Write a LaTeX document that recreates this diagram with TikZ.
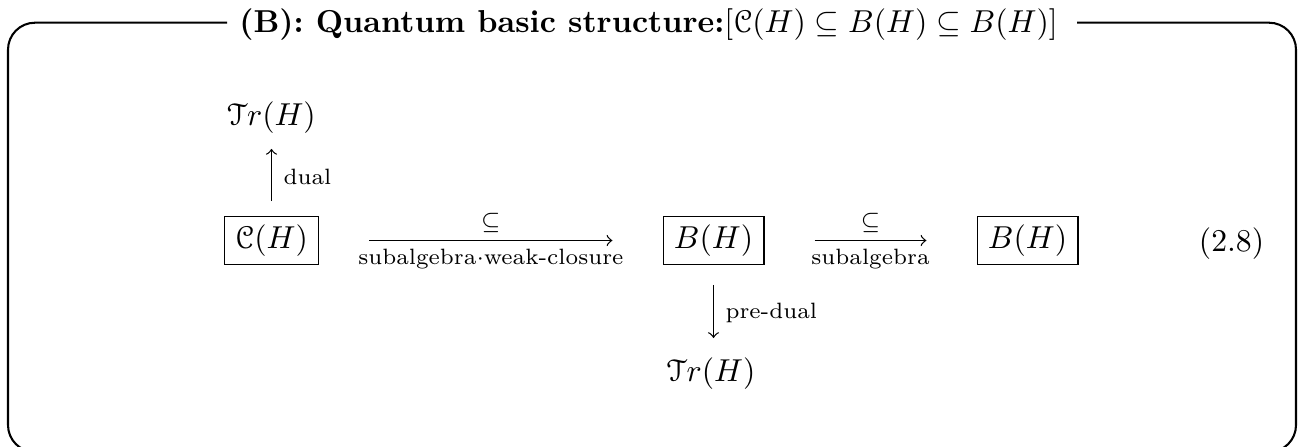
\documentclass[tikz,border=0pt]{standalone}
\usepackage{amsmath}
\usepackage[mathcal]{eucal}
\begin{document}
\begin{tikzpicture}[x=0.3155pt,y=-0.3155pt,
  obj/.style={draw, line width=0.4pt, inner xsep=3.4pt, inner ysep=2.5pt},
  plain/.style={inner sep=0pt},
  arr/.style={->, line width=0.4pt},
  lab/.style={font=\scriptsize, inner sep=2.4pt},
  sidelab/.style={font=\scriptsize, right, inner xsep=3.6pt, inner ysep=1pt},
  frame/.style={line width=0.65pt, rounded corners=8.5pt}]
\useasboundingbox (0,0) rectangle (1304,446);
% title and frame
\node[anchor=base, inner sep=0pt] (title) at (648.5,32)
  {\textbf{(B): Quantum basic structure:}$[\mathcal{C}(H)\subseteq B(H)\subseteq B(H)]$};
\coordinate (tl) at (227,22.7);
\coordinate (tr) at (1077,22.7);
\draw[frame] (tl) -- (8,22.7) -- (8,452) -- (1296,452) -- (1296,22.7) -- (tr);
% objects
\node[obj] (C) at (271.5,240.5) {$\mathcal{C}(H)$};
\node[obj] (B1) at (713.5,240.5) {$B(H)$};
\node[obj] (B2) at (1027.5,240.5) {$B(H)$};
\node[plain] (Ttop) at (271.5,117.5) {$\mathcal{T}r(H)$};
\node[plain] (Tbot) at (711,373.5) {$\mathcal{T}r(H)$};
\node[plain] (eq) at (1231.5,244) {(2.8)};
% arrows
\draw[arr, shorten <=15.8pt, shorten >=15.8pt] (C) --
  node[lab, above] {$\subseteq$}
  node[lab, below] {subalgebra$\cdot$weak-closure} (B1);
\draw[arr, shorten <=15.8pt, shorten >=15.8pt] (B1) --
  node[lab, above] {$\subseteq$}
  node[lab, below] {subalgebra} (B2);
\draw[arr, shorten <=4.7pt, shorten >=4.7pt] (C.north) --
  node[sidelab, pos=0.476] {dual} (C.north |- Ttop.south);
\draw[arr, shorten <=6.3pt, shorten >=6pt] (B1.south) --
  node[sidelab, pos=0.52] {pre-dual} (B1.south |- Tbot.north);
\end{tikzpicture}
\end{document}
